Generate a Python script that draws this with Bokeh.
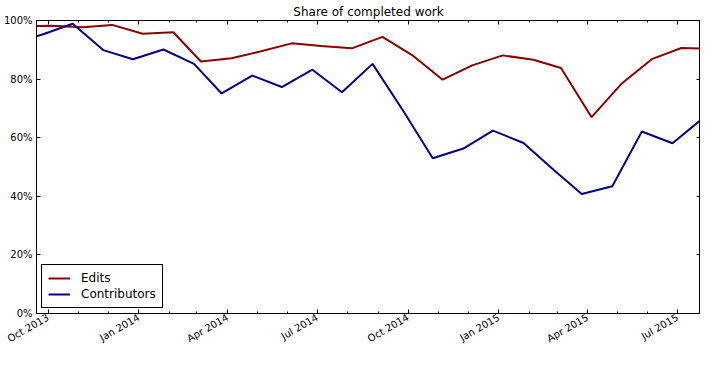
import math
from datetime import datetime
import pandas as pd
from bokeh.plotting import figure
from bokeh.models import (FixedTicker, DatetimeTickFormatter, PrintfTickFormatter,
                          LinearAxis, DatetimeAxis, Range1d, CustomLabelingPolicy)
from bokeh.embed import file_html
from bokeh.resources import INLINE

# ---- data ----
contrib_dates = ["2013-08-26", "2013-09-26", "2013-10-26", "2013-11-26", "2013-12-26",
                 "2014-01-26", "2014-02-26", "2014-03-26", "2014-04-26", "2014-05-26",
                 "2014-06-26", "2014-07-26", "2014-08-26", "2014-09-26", "2014-10-26",
                 "2014-11-26", "2014-12-26", "2015-01-26", "2015-02-26", "2015-03-26",
                 "2015-04-26", "2015-05-26", "2015-06-26", "2015-07-26"]
contrib_values = [92.0, 95.3, 98.9, 89.9, 86.8,
                  90.1, 85.2, 75.1, 81.2, 77.3,
                  83.2, 75.5, 85.2, 69.2, 53.0,
                  56.3, 62.4, 58.2, 48.9, 40.8,
                  43.4, 62.1, 58.1, 66.4]

edits_dates = ["2013-09-05", "2013-10-05", "2013-11-05", "2013-12-05", "2014-01-05",
               "2014-02-05", "2014-03-05", "2014-04-05", "2014-05-05", "2014-06-05",
               "2014-07-05", "2014-08-05", "2014-09-05", "2014-10-05", "2014-11-05",
               "2014-12-05", "2015-01-05", "2015-02-05", "2015-03-05", "2015-04-05",
               "2015-05-05", "2015-06-05", "2015-07-05", "2015-08-05"]
edits_values = [98.0, 98.2, 97.7, 98.5, 95.5,
                96.0, 86.0, 87.1, 89.5, 92.2,
                91.3, 90.5, 94.4, 88.2, 79.8,
                84.7, 88.1, 86.6, 83.8, 67.0,
                78.3, 86.8, 90.6, 90.4]

major_tick_dates = ["2013-10-01", "2014-01-01", "2014-04-01", "2014-07-01",
                    "2014-10-01", "2015-01-01", "2015-04-01", "2015-07-01"]
minor_tick_dates = [f"{y}-{m:02d}-01" for y, m in
                    [(2013, 9), (2013, 10), (2013, 11), (2013, 12)] +
                    [(2014, k) for k in range(1, 13)] +
                    [(2015, k) for k in range(1, 9)]]
y_ticks = [0, 20, 40, 60, 80, 100]

x_start = "2013-09-19 08:00"
x_end = "2015-07-24 10:00"

EPOCH = datetime(1970, 1, 1)


def to_ms(s):
    return (pd.Timestamp(s).to_pydatetime() - EPOCH).total_seconds() * 1000.0


FONT = "DejaVu Sans"

p = figure(width=700, height=351, x_axis_type="datetime",
           output_backend="svg", toolbar_location=None,
           x_range=Range1d(to_ms(x_start), to_ms(x_end)),
           y_range=Range1d(0, 100),
           title="Share of completed work")

p.min_border_left = 32
p.min_border_right = 0
p.min_border_top = 0
p.min_border_bottom = 0

p.title.text_font = FONT
p.title.text_font_size = "12px"
p.title.text_font_style = "normal"
p.title.align = "center"
p.title.text_color = "black"
p.title.standoff = 4

p.xgrid.visible = False
p.ygrid.visible = False
p.outline_line_color = "black"
p.outline_line_width = 1
p.outline_line_alpha = 1.0
p.background_fill_color = "white"
p.border_fill_color = "white"

cx = pd.to_datetime(contrib_dates)
ex = pd.to_datetime(edits_dates)

p.line(ex, edits_values, line_color="#8b0000", line_width=2, legend_label="Edits")
p.line(cx, contrib_values, line_color="#00008b", line_width=2, legend_label="Contributors")

xticker = FixedTicker(ticks=[to_ms(d) for d in major_tick_dates],
                      minor_ticks=[to_ms(d) for d in minor_tick_dates])
fmt = "%b %Y"
xfmt = DatetimeTickFormatter(microseconds=fmt, milliseconds=fmt, seconds=fmt,
                             minsec=fmt, minutes=fmt, hourmin=fmt, hours=fmt,
                             days=fmt, months=fmt, years=fmt)
yticker = FixedTicker(ticks=y_ticks, minor_ticks=[])
yfmt = PrintfTickFormatter(format="%d%%")

hide_labels = CustomLabelingPolicy(code="""
try {
  for (const i of Array.from(indices.ones())) { indices.unset(i) }
} catch (e) {}
return indices
""")


def style_axis(ax, labels=True):
    ax.axis_line_color = "black"
    ax.axis_line_width = 1
    ax.major_tick_in = 4
    ax.major_tick_out = 0
    ax.minor_tick_in = 2
    ax.minor_tick_out = 0
    ax.major_tick_line_color = "black"
    ax.minor_tick_line_color = "black"
    ax.major_label_text_font = FONT
    ax.major_label_text_color = "black"
    if labels:
        ax.major_label_text_font_size = "10px"
        ax.major_label_standoff = 4
    else:
        ax.major_label_text_font_size = "0px"
        ax.major_label_standoff = 0
        ax.major_label_policy = hide_labels


xa = p.xaxis[0]
xa.ticker = xticker
xa.formatter = xfmt
xa.major_label_orientation = math.pi / 6
style_axis(xa)
xa.major_label_standoff = 3

ya = p.yaxis[0]
ya.ticker = yticker
ya.formatter = yfmt
style_axis(ya)

top = DatetimeAxis(ticker=xticker, formatter=xfmt)
style_axis(top, labels=False)
p.add_layout(top, "above")

right = LinearAxis(ticker=yticker, formatter=yfmt)
style_axis(right, labels=False)
p.add_layout(right, "right")

lg = p.legend[0]
lg.location = "bottom_left"
lg.margin = 5
lg.padding = 6
lg.spacing = 2
lg.label_height = 14
lg.glyph_height = 14
lg.glyph_width = 22
lg.label_standoff = 11
lg.label_text_font = FONT
lg.label_text_font_size = "12px"
lg.label_text_color = "black"
lg.border_line_color = "black"
lg.border_line_width = 1
lg.border_line_alpha = 1.0
lg.background_fill_alpha = 1.0

open("out.html", "w").write(file_html(p, INLINE))
